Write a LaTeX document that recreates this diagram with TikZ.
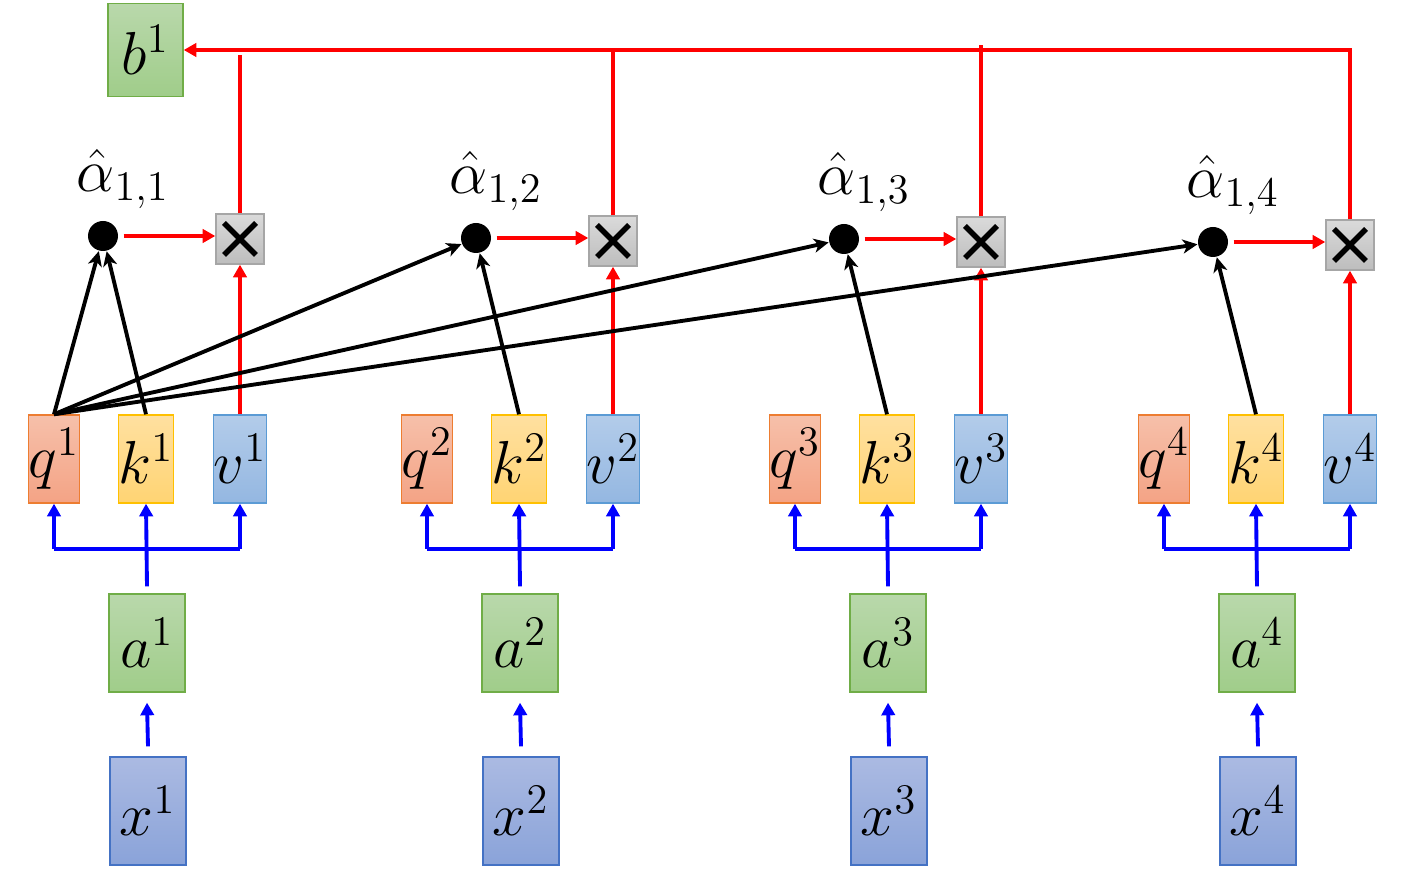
\documentclass[tikz,border=0pt]{standalone}
\usepackage{amsmath}
\usetikzlibrary{arrows.meta}

\definecolor{qline}{HTML}{ED7D31}
\definecolor{qtop}{HTML}{F6C0AA}
\definecolor{qbot}{HTML}{F4A385}
\definecolor{kline}{HTML}{FFC000}
\definecolor{ktop}{HTML}{FFE0A0}
\definecolor{kbot}{HTML}{FFD473}
\definecolor{vline}{HTML}{5B9BD5}
\definecolor{vtop}{HTML}{B3CCEA}
\definecolor{vbot}{HTML}{94B7E1}
\definecolor{gline}{HTML}{70AD47}
\definecolor{gtop}{HTML}{B9D8AB}
\definecolor{gbot}{HTML}{A0CD8A}
\definecolor{xline}{HTML}{4472C4}
\definecolor{xtop}{HTML}{ABBAE2}
\definecolor{xbot}{HTML}{8AA3D9}
\definecolor{mline}{HTML}{A6A6A6}
\definecolor{mtop}{HTML}{DADADA}
\definecolor{mbot}{HTML}{BDBDBD}

\begin{document}
\begin{tikzpicture}
	\tikzset{
		vec/.style={draw, minimum width=0.47cm, minimum height=0.88cm, inner sep=0pt, font=\LARGE},
		qbox/.style={vec, draw=qline, top color=qtop, bottom color=qbot},
		kbox/.style={vec, draw=kline, top color=ktop, bottom color=kbot},
		vbox/.style={vec, draw=vline, top color=vtop, bottom color=vbot},
		abox/.style={vec, draw=gline, top color=gtop, bottom color=gbot, minimum width=0.76cm, minimum height=0.98cm},
		xbox/.style={vec, draw=xline, top color=xtop, bottom color=xbot, minimum width=0.76cm, minimum height=1.08cm},
		mult/.style={draw=mline, top color=mtop, bottom color=mbot, minimum width=0.48cm, minimum height=0.5cm, inner sep=0pt,
			path picture={\draw[black, line width=1.6pt] ([shift={(-0.16,-0.16)}]path picture bounding box.center) -- ++(0.32,0.32)
				([shift={(-0.16,0.16)}]path picture bounding box.center) -- ++(0.32,-0.32);}},
		weight/.style={circle, fill=black, minimum size=0.3cm, inner sep=0pt},
		redline/.style={red, line width=1.1pt},
		redarr/.style={redline, -{Triangle[length=3.6pt, width=3.8pt]}},
		bluearr/.style={blue, line width=1.1pt, -{Triangle[length=3.6pt, width=3.8pt]}},
		blackarr/.style={black, line width=1.1pt, -{Stealth[length=4.2pt, width=4pt, inset=1.2pt]}}
	}
	\useasboundingbox (0,0) rectangle (14.13,-8.72);
	\node[abox, minimum width=0.75cm, minimum height=0.93cm] (b1) at (1.455,-0.5) {$b^{1}$};
	\coordinate (sum) at (0,-0.48);
	\foreach \i/\gx/\dy in {1/0.54/0, 2/4.27/0.02, 3/7.95/0.03, 4/11.64/0.06} {
		\node[qbox] (q\i) at (\gx,-4.59) {$q^{\i}$};
		\node[kbox] (k\i) at (\gx+0.92,-4.59) {$k^{\i}$};
		\node[vbox] (v\i) at (\gx+1.86,-4.59) {$v^{\i}$};
		\node[abox] (a\i) at (\gx+0.93,-6.43) {$a^{\i}$};
		\node[xbox] (x\i) at (\gx+0.94,-8.11) {$x^{\i}$};
		\node[weight] (w\i) at (\gx+0.49,-2.36-\dy) {};
		\node[font=\LARGE, anchor=south, inner sep=1pt] (l\i) at ([shift={(0.2,0.07)}]w\i.north) {$\hat{\alpha}_{1,\i}$};
		\node[mult] (m\i) at (\gx+1.86,-2.39-\dy) {};
		% attention and weighting
		\draw[blackarr] (k\i.north) -- (w\i);
		\draw[blackarr] (q1.north) -- (w\i);
		\draw[redarr] ([xshift=0.05cm]w\i.east) -- (w\i.east -| m\i.west);
		\draw[redarr] (v\i.north) -- (m\i.south);
		% projections
		\coordinate (j\i) at ([yshift=-0.45cm]k\i.south);
		\draw[blue, line width=1.1pt] (j\i -| q\i) -- (j\i -| v\i);
		\draw[bluearr] (j\i -| q\i) -- (q\i.south);
		\draw[bluearr] (j\i -| v\i) -- (v\i.south);
		\draw[bluearr] ([yshift=0.07cm]a\i.north) -- (k\i.south);
		\draw[bluearr] ([yshift=0.1cm]x\i.north) -- ([yshift=-0.1cm]a\i.south);
	}
	% sum into b1
	\draw[redarr] (m4.north) |- (b1.east);
	\draw[redline] (m1.north) -- ([yshift=-0.07cm]m1.north |- sum);
	\draw[redline] (m2.north) -- (m2.north |- sum);
	\draw[redline] (m3.north) -- ([yshift=0.03cm]m3.north |- sum);
\end{tikzpicture}
\end{document}
